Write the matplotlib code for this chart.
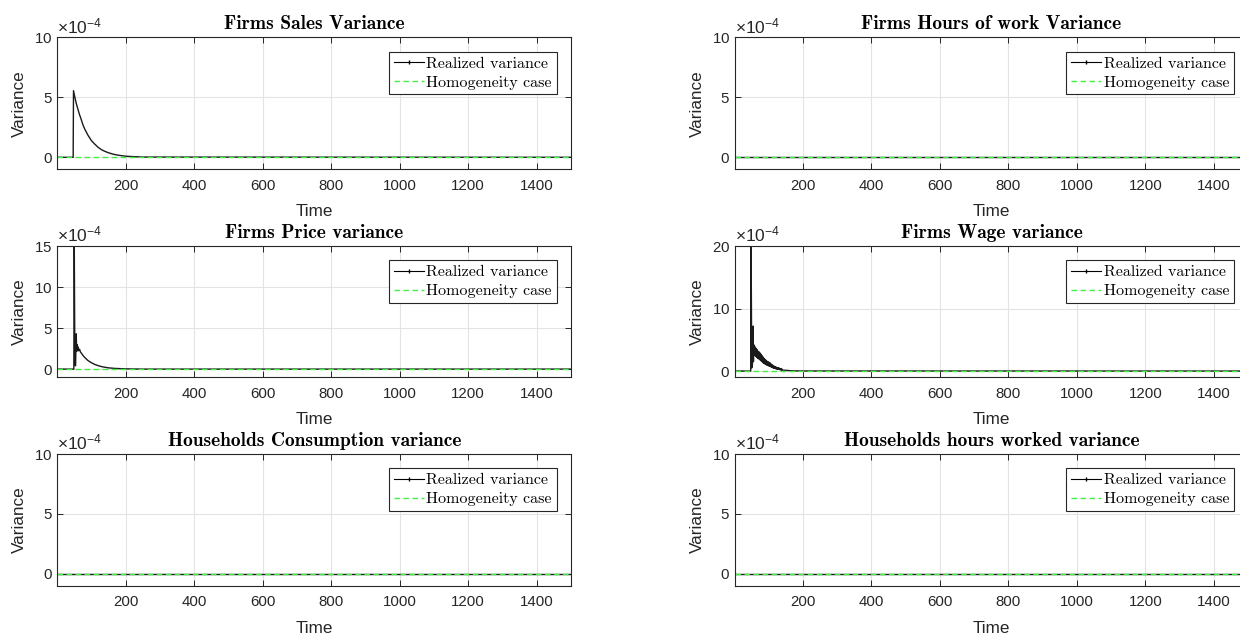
import numpy as np
import matplotlib
matplotlib.use("Agg")
import matplotlib.pyplot as plt
from matplotlib.lines import Line2D
from matplotlib.ticker import ScalarFormatter

plt.rcParams['font.family'] = ['Liberation Sans', 'DejaVu Sans']
plt.rcParams['mathtext.fontset'] = 'custom'
plt.rcParams['mathtext.rm'] = 'Liberation Sans'
plt.rcParams['mathtext.it'] = 'Liberation Sans'
plt.rcParams['axes.unicode_minus'] = False

# variance series, in units of 1e-4
T_END = 1500
UNIT = 1e-4

sales_t = [1, 47, 48, 52, 56, 60, 65, 70, 75, 80, 90, 100, 110, 120, 130,
           140, 150, 165, 180, 200, 250, 1500]
sales_v = [0, 0, 5.55, 5.0, 4.5, 4.1, 3.6, 3.2, 2.75, 2.4, 1.85, 1.4, 1.1,
           0.83, 0.63, 0.49, 0.38, 0.25, 0.17, 0.09, 0.02, 0]

price_t = [1, 49, 50, 52, 54, 56, 57, 58, 59, 60, 61, 62, 64, 66, 68, 70,
           75, 80, 90, 100, 110, 120, 130, 140, 150, 170, 200, 250, 1500]
price_v = [0, 0, 17.0, 0.6, 0.4, 4.3, 2.2, 3.0, 2.3, 2.8, 2.2, 2.6, 2.3,
           2.4, 2.1, 2.0, 1.7, 1.45, 1.05, 0.78, 0.57, 0.42, 0.3, 0.22,
           0.15, 0.08, 0.03, 0, 0]

wage_head_t = [1, 48, 49, 51, 53, 55, 56]
wage_head_v = [0, 0, 22.0, 0.5, 1.0, 7.2, 1.5]
# oscillating band: upper swing on odd steps, lower swing on even steps
wage_hi_t = list(range(57, 141, 2))
wage_hi_v = [4.2, 4.0, 3.8, 3.65, 3.5, 3.35, 3.2, 3.1, 3.0, 2.9, 2.75, 2.6,
             2.45, 2.3, 2.15, 2.0, 1.9, 1.8, 1.7, 1.6, 1.5, 1.45, 1.4, 1.35,
             1.25, 1.15, 1.05, 0.95, 0.88, 0.8, 0.74, 0.68, 0.63, 0.6, 0.56,
             0.52, 0.5, 0.46, 0.42, 0.38, 0.34, 0.3]
wage_lo_t = list(range(58, 142, 2))
wage_lo_v = [2.5, 2.6, 2.45, 2.3, 2.2, 2.1, 2.0, 1.95, 1.85, 1.75, 1.65, 1.55,
             1.45, 1.35, 1.27, 1.2, 1.12, 1.05, 1.0, 0.95, 0.9, 0.85, 0.8,
             0.78, 0.72, 0.66, 0.6, 0.55, 0.5, 0.46, 0.42, 0.39, 0.36, 0.33,
             0.3, 0.28, 0.26, 0.24, 0.21, 0.19, 0.17, 0.15]
wage_tail_t = [150, 160, 175, 200, 1500]
wage_tail_v = [0.12, 0.07, 0.03, 0.01, 0]

flat_t = [1, 1500]
flat_v = [0, 0]
homog_v = [0, 0]

titles = ['Firms Sales Variance', 'Firms Hours of work Variance',
          'Firms Price variance', 'Firms Wage variance',
          'Households Consumption variance', 'Households hours worked variance']
ytops = [10, 10, 15, 20, 10, 10]
yticks = [[0, 5, 10], [0, 5, 10], [0, 5, 10, 15], [0, 10, 20],
          [0, 5, 10], [0, 5, 10]]
xticks = [200, 400, 600, 800, 1000, 1200, 1400]

band = sorted(zip(wage_hi_t + wage_lo_t, wage_hi_v + wage_lo_v))
wage_t = wage_head_t + [b[0] for b in band] + wage_tail_t
wage_v = wage_head_v + [b[1] for b in band] + wage_tail_v

series = [(sales_t, sales_v), (flat_t, flat_v), (price_t, price_v),
          (wage_t, wage_v), (flat_t, flat_v), (flat_t, flat_v)]

W, H = 1240, 634
fig = plt.figure(figsize=(W / 100, H / 100), dpi=100)
lefts = [57.4, 734.6]
tops = [37.3, 246.0, 454.0]
bottoms = [169.3, 377.3, 585.7]
aw = 513.6

edge = '#262626'
green = '#44ee44'

for i in range(6):
    r, c = divmod(i, 2)
    ax = fig.add_axes([lefts[c] / W, 1 - bottoms[r] / H, aw / W,
                       (bottoms[r] - tops[r]) / H])
    t, v = series[i]
    ax.plot(t, np.array(v) * UNIT, color='#1a1a1a', lw=1.0)
    ax.plot(flat_t, np.array(homog_v) * UNIT, color=green, lw=1.0,
            dashes=(4, 2.5))
    ax.set_xlim(1, T_END)
    ax.set_ylim(-1 * UNIT, ytops[i] * UNIT)
    ax.set_xticks(xticks)
    ax.set_yticks(np.array(yticks[i]) * UNIT)
    fmt = ScalarFormatter(useMathText=True)
    fmt.set_powerlimits((-4, -4))
    ax.yaxis.set_major_formatter(fmt)
    ax.yaxis.get_offset_text().set_fontsize(12.5)
    ax.yaxis.get_offset_text().set_color(edge)
    ax.grid(True, color='#e3e3e3', lw=0.8)
    ax.set_axisbelow(True)
    ax.tick_params(direction='in', top=True, right=True, length=4.5,
                   width=0.7, colors=edge, labelsize=10.8, labelcolor=edge)
    ax.tick_params(axis='x', pad=7)
    for s in ax.spines.values():
        s.set_color(edge)
        s.set_linewidth(0.8)
    ax.set_xlabel('Time', fontsize=12.3, color=edge, labelpad=8)
    ax.set_ylabel('Variance', fontsize=12.3, color=edge, labelpad=5)
    ax.set_title(titles[i], fontfamily='cmb10', fontsize=14, pad=6)

    handles = [Line2D([], [], color='k', lw=0.8, marker='|', ms=2.5),
               Line2D([], [], color=green, lw=1.0, dashes=(4, 2.5))]
    leg = ax.legend(handles, ['Realized variance', 'Homogeneity case'],
                    loc='upper right', prop={'family': 'cmr10', 'size': 11.5},
                    fancybox=False, framealpha=1, edgecolor=edge,
                    handlelength=1.9, handletextpad=0.15, borderpad=0.3,
                    labelspacing=0.3, borderaxespad=0.9)
    leg.get_frame().set_linewidth(0.8)

fig.savefig('out.png', dpi=100)
